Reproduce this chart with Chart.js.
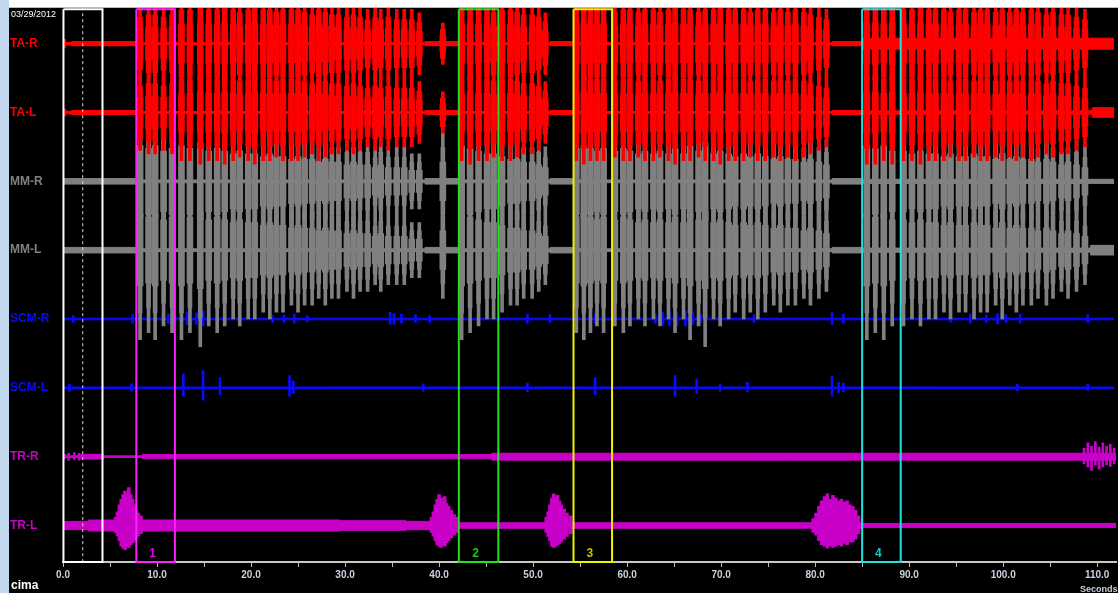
<!DOCTYPE html>
<html>
<head>
<meta charset="utf-8">
<script src="https://cdn.jsdelivr.net/npm/chart.js@4.4.0/dist/chart.umd.min.js"></script>
<style>
  html, body { margin:0; padding:0; }
  body { width:1118px; height:593px; background:#000; position:relative; overflow:hidden; font-family:"Liberation Sans", Arial, sans-serif; }
  #leftStrip { position:absolute; left:0; top:0; width:9px; height:593px; background:#c2d8ee; }
  #topStrip { position:absolute; left:9px; top:0; width:1109px; height:7px; background:#fff; border-bottom:1px solid #a8c2dc; }
  #wrap { position:absolute; left:10px; top:0; width:1108px; height:593px; }
  #date { position:absolute; left:11px; top:9px; color:#fff; font-size:9px; }
  #cima { position:absolute; left:11px; top:578px; color:#fff; font-weight:bold; font-size:12px; }
  #secs { position:absolute; left:1080px; top:584px; color:#c8d2de; font-weight:bold; font-size:9px; }
</style>
</head>
<body>
<div id="wrap"><canvas id="emg"></canvas></div>
<div id="leftStrip"></div>
<div id="topStrip"></div>
<div id="date">03/29/2012</div>
<div id="cima">cima</div>
<div id="secs">Seconds</div>
<script>
// ========== Data (seconds / channel units) ==========
const channelNames = ['TA-R','TA-L','MM-R','MM-L','SCM-R','SCM-L','TR-R','TR-L'];
const xTicks = [0,10,20,30,40,50,60,70,80,90,100,110];

// chewing cycles (one burst per cycle)
const burstTimes = [
  8.2,9.1,9.8,10.7,11.6,12.6,13.5,14.6,15.5,16.4,17.2,18.1,18.8,19.7,20.4,21.3,22.0,22.7,23.4,24.3,
  25.0,25.7,26.5,27.2,27.9,28.6,29.3,30.2,30.9,31.6,32.4,33.2,33.8,34.6,35.5,36.3,37.1,37.9,40.4,
  42.4,43.3,44.2,45.1,45.8,46.7,47.6,48.3,49.0,49.9,50.6,51.3,
  54.6,55.4,56.1,56.8,57.5,58.7,59.6,60.3,61.2,61.9,62.8,63.5,64.4,65.1,66.0,66.7,67.6,68.3,69.2,69.9,
  70.8,71.5,72.4,73.1,73.9,74.7,75.6,76.3,77.1,77.9,78.8,79.5,80.4,81.2,
  85.5,86.4,87.3,88.2,89.4,90.3,91.2,92.1,92.8,93.7,94.4,95.3,96.0,96.9,97.6,98.3,99.2,99.9,100.7,101.4,
  102.1,103.0,103.7,104.6,105.3,106.2,106.9,107.8,108.7
];
const taAmp = [
  0.55,0.6,0.6,0.55,0.6,0.7,0.7,0.75,0.7,0.7,0.75,0.7,0.65,0.7,0.75,0.7,0.7,0.65,0.7,0.7,
  0.7,0.65,0.6,0.7,0.65,0.6,0.6,0.55,0.6,0.55,0.5,0.55,0.5,0.55,0.5,0.5,0.5,0.45,0.3,
  0.7,0.75,0.7,0.7,0.65,0.7,0.7,0.65,0.6,0.6,0.55,0.45,
  0.7,0.75,0.7,0.7,0.7,0.65,0.7,0.7,0.65,0.7,0.7,0.65,0.7,0.75,0.7,0.7,0.65,0.7,0.7,0.75,
  0.7,0.7,0.7,0.65,0.7,0.7,0.65,0.7,0.65,0.7,0.65,0.6,0.55,0.5,
  0.75,0.75,0.7,0.75,0.7,0.7,0.75,0.7,0.7,0.7,0.65,0.7,0.7,0.65,0.7,0.7,0.65,0.7,0.65,0.7,
  0.65,0.7,0.65,0.6,0.65,0.6,0.6,0.55,0.5
];
const mmAmp = [
  1.3,1.2,1.3,1.1,1.2,1.3,1.2,1.4,1.1,1.2,1.1,1.0,1.1,1.0,1.0,0.9,1.0,0.9,0.9,0.8,
  0.9,0.8,0.8,0.7,0.8,0.7,0.7,0.6,0.7,0.6,0.6,0.5,0.6,0.5,0.5,0.5,0.4,0.4,0.7,
  1.3,1.2,1.1,1.0,1.0,0.9,0.8,0.8,0.7,0.7,0.6,0.5,
  1.2,1.3,1.2,1.1,1.2,1.1,1.2,1.1,1.0,1.1,1.0,1.1,1.0,1.2,1.0,1.3,1.1,1.4,1.0,1.1,
  1.0,0.9,1.0,0.9,1.0,0.9,0.8,0.9,0.8,0.8,0.7,0.8,0.7,0.6,
  1.3,1.2,1.3,1.1,1.1,1.0,1.1,1.0,1.0,0.9,1.0,0.9,0.9,1.0,0.9,0.9,0.8,1.0,0.8,0.9,
  0.8,0.8,0.7,0.8,0.7,0.6,0.7,0.6,0.5
];

// isolated spikes [t, up, down]
const scmRSpikes = [[1.1,0.05,0.05],[7.4,0.07,0.06],[10.6,0.06,0.05],[11.2,0.08,0.07],[11.7,0.06,0.06],[13.2,0.1,0.08],
  [13.6,0.12,0.1],[14.2,0.09,0.08],[14.9,0.12,0.1],[22.3,0.05,0.05],[23.5,0.06,0.05],[24.6,0.07,0.06],[26.0,0.05,0.04],
  [34.8,0.1,0.08],[35.2,0.08,0.08],[36.0,0.07,0.06],[37.5,0.06,0.05],[39.0,0.05,0.05],[49.4,0.07,0.06],[51.8,0.06,0.05],
  [56.6,0.08,0.07],[60.3,0.09,0.08],[63.0,0.07,0.06],[63.8,0.1,0.09],[64.5,0.12,0.1],[65.3,0.1,0.1],[66.2,0.11,0.1],
  [67.0,0.09,0.08],[67.8,0.07,0.06],[73.5,0.06,0.05],[81.8,0.1,0.08],[83.0,0.07,0.06],[94.4,0.06,0.05],[96.5,0.07,0.06],
  [98.2,0.06,0.05],[99.4,0.08,0.07],[100.3,0.06,0.05],[101.8,0.07,0.06],[109.0,0.06,0.05]];
const scmLSpikes = [[0.7,0.05,0.05],[7.3,0.06,0.05],[12.8,0.2,0.12],[14.9,0.25,0.18],[16.7,0.15,0.1],[24.1,0.18,0.12],
  [24.5,0.1,0.08],[38.3,0.06,0.05],[49.4,0.07,0.06],[56.6,0.15,0.1],[65.1,0.18,0.12],[67.4,0.13,0.08],[69.9,0.06,0.05],
  [72.8,0.08,0.06],[81.8,0.17,0.12],[82.5,0.08,0.07],[83.0,0.07,0.06],[101.5,0.05,0.04],[109.0,0.05,0.04]];
const trRSpikes = [[0.6,0.05,0.05],[1.2,0.06,0.04],[1.7,0.05,0.05],[108.6,0.12,0.1],[109.0,0.2,0.15],[109.4,0.15,0.2],
  [109.8,0.22,0.12],[110.2,0.14,0.18],[110.6,0.2,0.15],[111.0,0.15,0.12],[111.4,0.18,0.14],[111.8,0.12,0.1]];
const trLSpikes = [
  [5.6,0.12,0.1],[5.8,0.2,0.15],[6.0,0.3,0.22],[6.2,0.38,0.3],[6.4,0.45,0.33],[6.6,0.5,0.35],[6.8,0.42,0.3],
  [7.0,0.55,0.32],[7.2,0.45,0.28],[7.4,0.38,0.25],[7.6,0.3,0.22],[7.8,0.22,0.18],[8.0,0.18,0.15],[8.3,0.14,0.12],
  [39.2,0.12,0.1],[39.4,0.2,0.15],[39.6,0.3,0.22],[39.8,0.38,0.28],[40.0,0.45,0.3],[40.2,0.4,0.32],[40.4,0.35,0.28],
  [40.6,0.42,0.3],[40.8,0.32,0.25],[41.0,0.28,0.22],[41.3,0.22,0.18],[41.6,0.16,0.14],[41.9,0.12,0.1],
  [51.4,0.12,0.1],[51.6,0.2,0.16],[51.8,0.3,0.22],[52.0,0.4,0.3],[52.2,0.46,0.32],[52.4,0.38,0.3],[52.6,0.44,0.28],
  [52.8,0.36,0.26],[53.0,0.3,0.24],[53.3,0.24,0.2],[53.6,0.18,0.16],[54.0,0.14,0.12],
  [79.8,0.1,0.1],[80.1,0.18,0.14],[80.4,0.28,0.22],[80.7,0.36,0.28],[81.0,0.42,0.3],[81.3,0.46,0.33],[81.6,0.38,0.3],
  [81.9,0.44,0.32],[82.2,0.4,0.3],[82.5,0.36,0.28],[82.8,0.38,0.3],[83.1,0.34,0.26],[83.4,0.36,0.28],[83.7,0.3,0.24],
  [84.0,0.28,0.24],[84.3,0.22,0.2],[84.6,0.14,0.12]
];

// background noise level per channel: [from t, half height]
const taRNoise = [[0.1,0.015],[0.3,0.06],[0.9,0.018],[7.8,0.03],[38.5,0.015],[42,0.03],[51.8,0.015],[54.2,0.03],[81.8,0.015],[85,0.03],[109.3,0.08],[111.8,0.08]];
const taLNoise = [[0.1,0.015],[0.3,0.05],[0.9,0.018],[7.8,0.03],[38.5,0.015],[42,0.03],[51.8,0.015],[54.2,0.03],[81.8,0.015],[85,0.03],[109.5,0.025],[110.3,0.07],[111.8,0.07]];
const mmRNoise = [[0.1,0.018],[7.8,0.04],[38.5,0.02],[42,0.04],[51.8,0.02],[54.2,0.04],[81.8,0.02],[85,0.04],[109.3,0.03],[111.8,0.03]];
const mmLNoise = [[0.1,0.018],[7.8,0.04],[38.5,0.02],[42,0.04],[51.8,0.02],[54.2,0.04],[81.8,0.02],[85,0.04],[109.3,0.03],[110.5,0.07],[111.8,0.07]];
const scmRNoise = [[0.1,0.012],[111.8,0.012]];
const scmLNoise = [[0.1,0.012],[111.8,0.012]];
const trRNoise = [[0,0.012],[0.3,0.03],[1.9,0.012],[4.3,0.035],[8.4,0.012],[45.6,0.03],[108.5,0.05],[112,0.05]];
const trLNoise = [[0,0.012],[2.7,0.06],[29.5,0.08],[36.5,0.07],[42,0.06],[85.0,0.04],[85.8,0.03],[112,0.03]];

// marked analysis windows
const boxNames = ['1','2','3','4'];
const boxStart = [7.8,42.1,54.3,85.0];
const boxEnd = [11.9,46.3,58.4,89.1];
const refBox = [0.05,4.2];
const refLine = 2.1;

// ========== Styles ==========
const channelColors = ['#ff0000','#ff0000','#808080','#808080','#0a0aff','#0a0aff','#c800c8','#c800c8'];
const boxColors = ['#ff20ff','#20e020','#f0f000','#20e0e0'];
const boxTextColors = ['#e000e0','#10d010','#d8b800','#10c8c8'];
const Y_TOP = 8.53, Y_BOTTOM = 0.47;
const base = i => 8 - i;

Chart.defaults.font.family = '"Liberation Sans", Arial, sans-serif';

// ========== Dataset builders ==========
function burstBars(ch, amps, frac, thick) {
  const b = base(ch);
  return { type:'bar', data: burstTimes.map((t,i)=>({ x:t, y:[b - amps[i]*frac, b + amps[i]*frac] })),
    backgroundColor: channelColors[ch], barThickness: thick, grouped:false, borderWidth:0 };
}
function spikeBars(ch, spikes, thick) {
  const b = base(ch);
  return { type:'bar', data: spikes.map(s=>({ x:s[0], y:[b - s[2], b + s[1]] })),
    backgroundColor: channelColors[ch], barThickness: thick, grouped:false, borderWidth:0 };
}
function band(ch, knots) {
  const b = base(ch), c = channelColors[ch];
  const common = { type:'line', stepped:'after', borderColor:c, backgroundColor:c, borderWidth:1, pointRadius:0 };
  return [
    Object.assign({}, common, { data: knots.map(k=>({ x:k[0], y:b + k[1] })), fill:false }),
    Object.assign({}, common, { data: knots.map(k=>({ x:k[0], y:b - k[1] })), fill:'-1' })
  ];
}
function rect(x0, x1, color, width) {
  return { type:'line', data:[{x:x0,y:Y_TOP-0.03},{x:x1,y:Y_TOP-0.03},{x:x1,y:Y_BOTTOM},{x:x0,y:Y_BOTTOM},{x:x0,y:Y_TOP-0.03}],
    borderColor:color, borderWidth:width, pointRadius:0, fill:false, clip:false };
}

const datasets = [];
boxStart.forEach((s,i)=>datasets.push(rect(s, boxEnd[i], boxColors[i], 2)));
datasets.push(rect(refBox[0], refBox[1], '#ffffff', 2));
datasets.push({ type:'line', data:[{x:refLine,y:Y_TOP},{x:refLine,y:Y_BOTTOM}], borderColor:'#d8d8d8', borderWidth:1, borderDash:[3,3], pointRadius:0, fill:false });

[0,1].forEach(ch => {
  datasets.push(burstBars(ch, taAmp, 1.0, 3), burstBars(ch, taAmp, 0.7, 5), burstBars(ch, taAmp, 0.4, 6));
});
datasets.push(...band(0, taRNoise), ...band(1, taLNoise));
[2,3].forEach(ch => {
  datasets.push(burstBars(ch, mmAmp, 1.0, 3), burstBars(ch, mmAmp, 0.7, 4), burstBars(ch, mmAmp, 0.4, 6));
});
datasets.push(...band(2, mmRNoise), ...band(3, mmLNoise));
datasets.push(spikeBars(4, scmRSpikes, 2), spikeBars(5, scmLSpikes, 2));
datasets.push(...band(4, scmRNoise), ...band(5, scmLNoise));
datasets.push(spikeBars(6, trRSpikes, 2), spikeBars(7, trLSpikes, 3));
datasets.push(...band(6, trRNoise), ...band(7, trLNoise));

// numbers under the windows
const boxLabels = {
  id:'boxLabels',
  afterDatasetsDraw(chart) {
    const { ctx, chartArea, scales:{ x } } = chart;
    ctx.save();
    ctx.font = 'bold 12px "Liberation Sans", Arial, sans-serif';
    ctx.textAlign = 'center';
    ctx.textBaseline = 'bottom';
    boxNames.forEach((n,i) => {
      ctx.fillStyle = boxTextColors[i];
      ctx.fillText(n, x.getPixelForValue((boxStart[i] + boxEnd[i]) / 2) - 3, chartArea.bottom - 2);
    });
    ctx.restore();
  }
};

new Chart(document.getElementById('emg'), {
  type:'bar',
  data:{ datasets },
  plugins:[boxLabels],
  options:{
    responsive:true, maintainAspectRatio:false, animation:false,
    layout:{ padding:{ left:0, top:0, right:2, bottom:0 } },
    plugins:{ legend:{ display:false }, tooltip:{ enabled:false } },
    scales:{
      x:{
        type:'linear', min:0, max:112, offset:false,
        afterFit: a => { a.height = 31; },
        ticks:{ stepSize:5, includeBounds:false, autoSkip:false, maxRotation:0, padding:2,
          callback: v => xTicks.includes(v) ? v.toFixed(1) : '',
          color:'#c8d2de', font:{ size:10, weight:'bold' } },
        grid:{ display:true, drawOnChartArea:false, drawTicks:true, tickLength:5, color:'#b8b8b8', offset:false },
        border:{ display:true, color:'#c8c8c8', width:2 }
      },
      y:{
        type:'linear', min:Y_BOTTOM, max:Y_TOP, position:'left',
        afterBuildTicks: a => { a.ticks = channelNames.map((n,i)=>({ value: base(i) })); },
        afterFit: a => { a.width = 53; },
        ticks:{ autoSkip:false, crossAlign:'far', padding:0,
          callback: v => channelNames[8 - v],
          color: ctx => channelColors[8 - ctx.tick.value],
          font:{ size:12, weight:'bold' } },
        grid:{ display:false }, border:{ display:false }
      }
    }
  }
});
</script>
</body>
</html>
